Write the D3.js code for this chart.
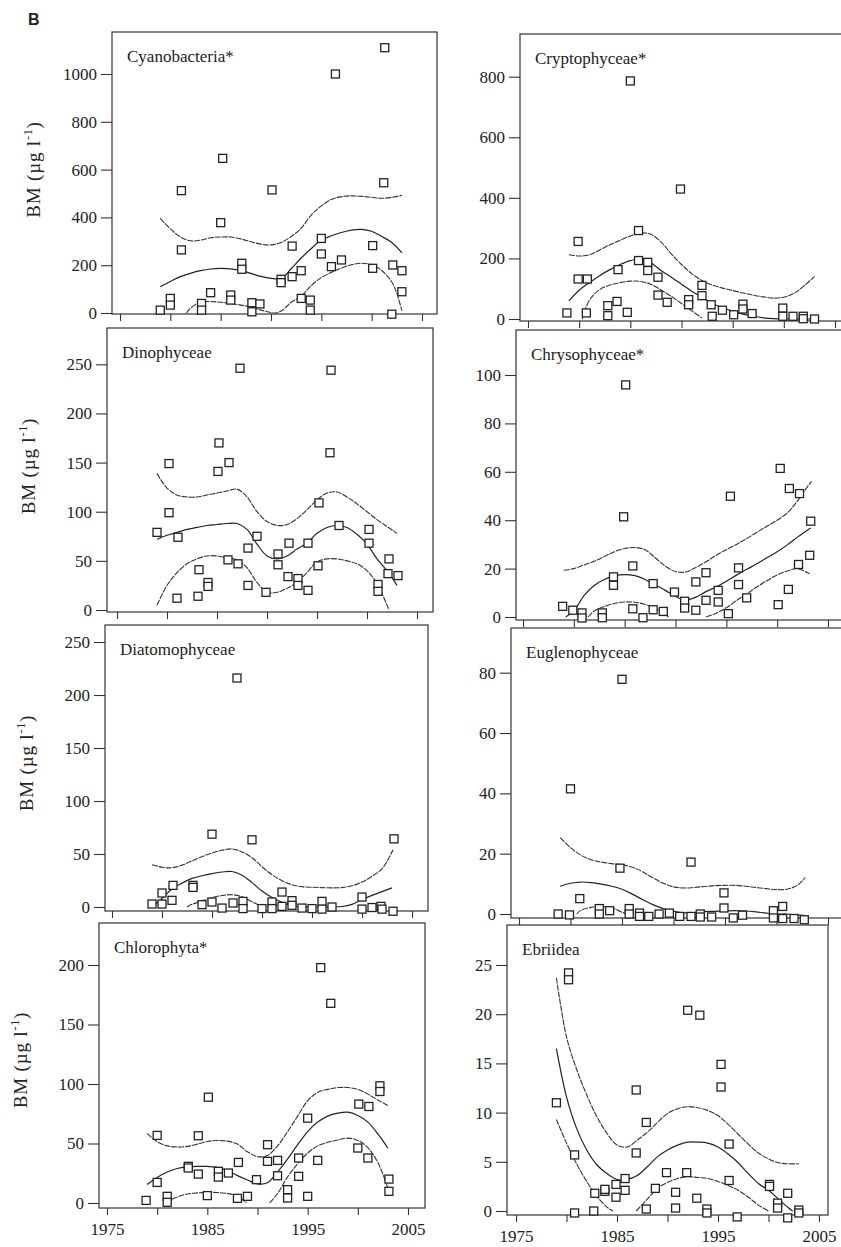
<!DOCTYPE html>
<html lang="en">
<head>
<meta charset="utf-8">
<title>Phytoplankton biomass trends</title>
<script src="https://d3js.org/d3.v7.min.js"></script>
<style>
  body { margin: 0; background: #fff; }
  svg text { font-family: "Liberation Serif", "DejaVu Serif", serif; fill: #222; }
  .frame { fill: none; stroke: #333; stroke-width: 1.2; }
  .axis path { display: none; }
  .axis line { stroke: #333; stroke-width: 1.1; }
  .pt { fill: #fff; stroke: #222; stroke-width: 1.3; }
  .fit { fill: none; stroke: #222; stroke-width: 1.2; }
  .band { fill: none; stroke: #333; stroke-width: 1.1; stroke-dasharray: 6,1; }
</style>
</head>
<body>
<script>
// x ticks every 5 years, labels only on the bottom panels
var xTicks = [1975, 1980, 1985, 1990, 1995, 2000, 2005];

// ---- Cyanobacteria ----
var cyanoPts = [[1979,12],[1980,61],[1980,33],[1981.1,512],[1981.1,264],[1983.1,40],[1983.1,12],[1984,85],[1985.2,647],[1985,378],
  [1986,75],[1986,54],[1987.1,208],[1987.1,183],[1988.1,43],[1988.1,5],[1988.9,38],[1990.1,515],[1991,141],[1991,127],
  [1992.1,152],[1992.1,280],[1993,177],[1993,61],[1993.9,54],[1993.9,12],[1995,312],[1995,247],[1996,194],[1996.4,1000],
  [1997,222],[2000.1,282],[2000.1,187],[2001.3,1110],[2001.2,545],[2002.1,201],[2002,-5],[2003,177],[2003,89]];
var cyanoHi = [[1979,396],[1980,352],[1981,318],[1982,302],[1983,305],[1984,315],[1985,318],[1986,318],[1987,310],[1988,298],
  [1989,288],[1990,285],[1991,295],[1992,320],[1993,355],[1994,410],[1995,448],[1996,475],[1997,487],[1998,490],[1999,488],
  [2000,484],[2001,480],[2002,484],[2003,492]];
var cyanoFit = [[1979,110],[1980,132],[1981,152],[1982,166],[1983,177],[1984,184],[1985,187],[1986,185],[1987,178],[1988,166],
  [1989,153],[1990,145],[1991,145],[1992,185],[1993,230],[1994,270],[1995,305],[1996,323],[1997,337],[1998,347],[1999,350],
  [2000,342],[2001,320],[2002,295],[2003,252]];
var cyanoLo = [[1981.6,0],[1982,20],[1983,45],[1984,48],[1985,45],[1986,40],[1987,33],[1988,25],[1989,12],[1990,2],[1990.5,0],
  [1991,8],[1991.5,25],[1992,45],[1993,70],[1994,115],[1995,148],[1996,170],[1997,188],[1998,202],[1999,208],[2000,202],
  [2001,178],[2002,130],[2002.5,82],[2003,10]];

// ---- Cryptophyceae ----
var cryptoPts = [[1978.8,20],[1979.9,256],[1979.9,132],[1980.8,132],[1980.7,20],[1982.8,44],[1982.8,11],[1983.8,163],[1983.7,58],
  [1984.7,22],[1985,786],[1985.8,292],[1985.8,193],[1986.7,187],[1986.7,160],[1987.7,138],[1987.7,79],[1988.6,55],[1989.9,429],
  [1990.7,64],[1990.7,47],[1992,111],[1992,77],[1992.9,47],[1993,9],[1994,29],[1995.1,14],[1996,49],[1996,33],[1996.9,18],
  [1999.9,36],[1999.9,9],[2000.9,9],[2001.9,9],[2001.9,1],[2003,0]];
var cryptoHi = [[1979,212],[1980,208],[1981,212],[1982,228],[1983,245],[1984,260],[1985,274],[1986,284],[1987,280],[1988,254],
  [1989,215],[1990,180],[1991,150],[1992,127],[1993,112],[1994,102],[1995,94],[1996,86],[1997,79],[1998,73],[1999,69],
  [2000,72],[2001,85],[2002,110],[2003,141]];
var cryptoFit = [[1979,60],[1980,95],[1981,120],[1982,143],[1983,163],[1984,180],[1985,193],[1986,198],[1987,186],[1988,160],
  [1989,138],[1990,115],[1991,92],[1992,72],[1993,52],[1994,37],[1995,26],[1996,16],[1997,9],[1998,4],[1999,1],[2000,0],
  [2001,0],[2002,0],[2003,0]];
var cryptoLo = [[1980.3,0],[1981,62],[1982,97],[1983,112],[1984,120],[1985,125],[1986,124],[1987,115],[1988,96],[1989,75],
  [1990,51],[1991,27],[1992,3]];

// ---- Dinophyceae ----
var dinoPts = [[1979,79],[1980.2,149],[1980.2,99],[1981.1,74],[1981,12],[1983.2,41],[1983.1,14],[1984.1,28],[1984.1,24],
  [1985.2,170],[1985.1,141],[1986.2,150],[1986.1,51],[1987.1,47],[1987.3,246],[1988.1,63],[1988.1,25],[1989,75],[1989.9,18],
  [1991.1,57],[1991.1,46],[1992.2,68],[1992.1,34],[1993.1,32],[1993.1,25],[1994.1,68],[1994.1,20],[1995.2,109],[1995.1,45],
  [1996.4,244],[1996.3,160],[1997.2,86],[2000.2,82],[2000.2,68],[2001.1,26],[2001.1,19],[2002.2,52],[2002.1,37],[2003.1,35]];
var dinoHi = [[1979,139],[1980,124],[1981,117],[1982,115],[1983,115],[1984,117],[1985,119],[1986,121],[1987,123],[1988,115],
  [1989,100],[1990,90],[1991,86],[1992,87],[1993,93],[1994,102],[1995,112],[1996,119],[1997,120],[1998,115],[1999,108],
  [2000,100],[2001,92],[2002,85],[2003,78]];
var dinoFit = [[1979,72],[1980,76],[1981,79],[1982,82],[1983,84],[1984,86],[1985,87],[1986,88],[1987,88],[1988,82],[1989,67],
  [1990,55],[1991,52],[1992,55],[1993,62],[1994,68],[1995,78],[1996,84],[1997,86],[1998,84],[1999,77],[2000,67],[2001,52],
  [2002,40],[2003,25]];
var dinoLo = [[1979,5],[1980,25],[1981,38],[1982,47],[1983,52],[1984,55],[1985,55],[1986,53],[1987,51],[1988,43],[1989,28],
  [1990,18],[1991,18],[1992,22],[1993,28],[1994,38],[1995,49],[1996,52],[1997,52],[1998,50],[1999,47],[2000,40],[2001,27],
  [2002,5],[2002.2,0]];

// ---- Chrysophyceae ----
var chrysoPts = [[1978.9,4.4],[1979.9,2.8],[1980.8,1.7],[1980.8,-0.4],[1982.8,1.7],[1982.8,-0.3],[1983.9,16.6],[1983.9,13.1],
  [1985.1,95.9],[1984.9,41.4],[1985.8,21.1],[1985.8,3.4],[1986.8,-0.3],[1987.8,13.8],[1987.8,3],[1988.8,2.3],[1989.9,10.3],
  [1990.9,6.5],[1990.9,3.7],[1992,14.5],[1992,2.8],[1993,18.3],[1993,6.9],[1994.2,11],[1994.2,6.2],[1995.4,49.9],[1995.2,1.4],
  [1996.2,20.3],[1996.2,13.4],[1997,7.9],[2000.3,61.4],[2000.1,5.1],[2001.2,53.1],[2001.1,11.4],[2002.2,51],[2002.1,21.7],
  [2003.3,39.6],[2003.2,25.5]];
var chrysoHi = [[1979,19.3],[1980,20],[1981,21.5],[1982,23],[1983,25],[1984,27],[1985,28.3],[1986,28.7],[1987,27.8],[1988,24.5],
  [1989,21],[1990,18.8],[1991,18.6],[1992,20.5],[1993,22.8],[1994,25.5],[1995,27.8],[1996,30],[1997,32.4],[1998,35],[1999,37.5],
  [2000,40],[2001,43],[2002,48],[2003,54],[2003.4,56]];
var chrysoFit = [[1979.2,0],[1980,2.5],[1981,8.8],[1982,13],[1983,15.5],[1984,17],[1985,17.5],[1986,17.1],[1987,15.5],[1988,13.3],
  [1989,11],[1990,8.5],[1991,7],[1992,8.2],[1993,10.5],[1994,12.4],[1995,14.8],[1996,17.3],[1997,19.7],[1998,22],[1999,24.5],
  [2000,27],[2001,29.8],[2002,33],[2003,36],[2003.3,36.8]];
var chrysoLo = [[1981.4,0],[1982,2.5],[1983,4.3],[1984,5.6],[1985,6.2],[1986,6.1],[1987,5.2],[1988,3.6],[1989,1],[1989.3,0],
  [1991,null],[1993,0],[1994,1.6],[1995,3.8],[1996,6.8],[1997,9.5],[1998,12.4],[1999,15],[2000,17.4],[2001,19],[2002,20],
  [2003,18.3],[2003.2,17.9]];

// ---- Diatomophyceae ----
var diatomPts = [[1979,2.8],[1980,13.2],[1980,2.8],[1981.1,20.4],[1981,6.3],[1983.1,20.4],[1983.1,18.5],[1984,2.2],[1985,68.7],
  [1985,4.7],[1986,-1],[1987.1,3.8],[1987.5,216],[1988.1,5.3],[1988.1,-1.5],[1989,63.4],[1990,-1.5],[1991,4.7],[1991,-1.5],
  [1992,14.1],[1992,0.6],[1993,6],[1993,1.6],[1994,-1],[1995,-1.5],[1996,5.3],[1996,-2],[1997,0],[2000,9.4],[2000,-2],
  [2001,-0.5],[2001.9,0.6],[2002,-2],[2003.1,-4],[2003.2,64.3]];
var diatomHi = [[1979,39.8],[1980,37.5],[1981,37],[1982,39.5],[1983,43.5],[1984,47.5],[1985,51],[1986,53.5],[1987,54.8],[1988,52],
  [1989,46.5],[1990,38],[1991,30.5],[1992,24.8],[1993,21],[1994,19.2],[1995,18.6],[1996,18.3],[1997,18],[1998,18.3],[1999,20],
  [2000,23.5],[2001,29],[2002,36],[2003,52],[2003.1,54]];
var diatomFit = [[1979,0],[1980,8],[1981,17],[1982,22.5],[1983,27],[1984,29.5],[1985,31.5],[1986,33],[1987,33.5],[1988,30],
  [1989,23],[1990,15],[1991,9],[1992,4.5],[1993,1],[1994,0],[1995,0],[1996,0],[1997,0],[1998,0.5],[1999,2.5],[2000,7],
  [2001,11],[2002,14.5],[2003,18]];
var diatomLo = [[1982.5,0],[1983,2.5],[1984,5.8],[1985,8.8],[1986,10.8],[1987,11.6],[1988,9.6],[1989,5],[1990,0.5],[1990.2,0]];

// ---- Euglenophyceae ----
var eugPts = [[1978.8,0],[1979.9,-0.3],[1980,41.5],[1980.9,5.1],[1982.8,1.8],[1982.8,0],[1983.8,1.1],[1985,77.8],[1984.8,15.2],
  [1985.7,1.8],[1985.7,0],[1986.7,0.3],[1986.7,-0.8],[1987.6,-0.8],[1988.6,0],[1989.6,0.3],[1990.6,-0.8],[1991.7,17.2],
  [1991.7,-0.8],[1992.6,0],[1992.6,-1],[1993.7,-1],[1994.9,7],[1994.9,2],[1995.8,-1.3],[1996.7,-0.4],[1999.7,1.1],
  [1999.7,-1.3],[2000.6,2.5],[2000.6,-1.5],[2001.7,-1.5],[2002.7,-1.9]];
var eugHi = [[1979,25.3],[1980,22],[1981,19.5],[1982,18],[1983,17.2],[1984,16.7],[1985,16.3],[1986,15.5],[1987,14],[1988,12],
  [1989,10.2],[1990,9],[1991,8.6],[1992,8.8],[1993,9.1],[1994,9.4],[1995,9.5],[1996,9.5],[1997,9.2],[1998,8.8],[1999,8.4],
  [2000,8.1],[2001,8.2],[2002,9.5],[2002.8,12.1]];
var eugFit = [[1979,9.2],[1980,10.2],[1981,10.6],[1982,10.4],[1983,9.9],[1984,9.2],[1985,8.2],[1986,6.6],[1987,4.8],[1988,3.1],
  [1989,1.8],[1990,0.9],[1991,0.4],[1992,0.5],[1993,0.8],[1994,0.9],[1995,1],[1996,1.1],[1997,1],[1998,0.7],[1999,0.3],
  [2000,0],[2001,0],[2002,-0.3],[2002.8,-0.5]];
var eugLo = [[1980.6,0],[1981,1.2],[1982,2.2],[1983,2.5],[1984,2],[1985,0.6],[1985.3,0]];

// ---- Chlorophyta ----
var chloroPts = [[1978.9,2.2],[1980,56.8],[1980,17.3],[1981,5.6],[1981,0.6],[1983.1,30.8],[1983.1,29.4],[1984.1,56.5],[1984.1,24.3],
  [1985.1,88.9],[1985,6.2],[1986.1,26.6],[1986.1,21.8],[1987.1,25.2],[1988.1,34.1],[1988,3.9],[1989,5.6],[1989.9,19.6],
  [1991,49],[1991,35],[1992,35.8],[1992,22.9],[1993,11.2],[1993,4.2],[1994.1,37.8],[1994.1,22.4],[1995,71.3],[1995,5.6],
  [1996.3,197.8],[1996,35.8],[1997.3,167.8],[2000.1,83.1],[2000,46.2],[2001.1,81.1],[2001,37.8],[2002.2,98.5],[2002.2,93.7],
  [2003.1,20.1],[2003.1,9.8]];
var chloroHi = [[1979,58.5],[1980,51.5],[1981,48],[1982,47],[1983,47.6],[1984,49.5],[1985,51.7],[1986,52.5],[1987,52],[1988,49.5],
  [1989,43],[1990,39],[1991,40],[1992,48],[1993,60],[1994,73],[1995,86],[1996,93],[1997,95.5],[1998,97],[1999,97],[2000,95.5],
  [2001,91.5],[2002,86.5],[2003,82]];
var chloroFit = [[1979,15.5],[1980,21.5],[1981,26],[1982,29],[1983,30.3],[1984,30.8],[1985,30.7],[1986,30],[1987,27.3],[1988,23],
  [1989,19.3],[1990,16],[1991,17],[1992,26],[1993,37],[1994,49],[1995,60],[1996,68],[1997,73],[1998,75.5],[1999,76.3],
  [2000,73.5],[2001,68],[2002,58],[2003,46]];
var chloroLo = [[1980.9,0],[1981,1],[1982,5],[1983,7.5],[1984,8.5],[1985,9],[1986,8.8],[1987,8],[1988,5.8],[1988.9,0],[1990,null],
  [1991.2,0],[1992,8],[1993,22],[1994,33],[1995,42],[1996,48],[1997,51],[1998,53],[1999,54.5],[2000,52.6],[2001,46.5],
  [2002,34],[2003,12.5]];

// ---- Ebriidea ----
var ebriPts = [[1979,11],[1980.2,24.2],[1980.2,23.5],[1980.8,5.7],[1980.8,-0.2],[1982.8,1.8],[1982.7,0],[1983.8,2],[1983.8,2.2],
  [1984.9,2.7],[1984.9,1.4],[1985.8,3.3],[1985.8,2.1],[1986.9,12.3],[1986.9,5.9],[1987.9,9],[1987.9,0.2],[1988.8,2.3],
  [1989.9,3.9],[1990.8,1.9],[1990.8,0.3],[1992,20.4],[1991.9,3.9],[1992.9,1.3],[1993.2,19.9],[1993.9,0.2],[1993.9,-0.2],
  [1995.3,14.9],[1995.3,12.6],[1996.1,6.8],[1996.1,3.1],[1996.9,-0.6],[2000.1,2.7],[2000.1,2.5],[2000.9,0.8],[2000.9,0.3],
  [2001.9,1.8],[2001.9,-0.7],[2003,0.1],[2003,-0.2]];
var ebriHi = [[1979,23.7],[1980,17.7],[1981,14.4],[1982,11.8],[1983,9.6],[1984,7.9],[1985,6.7],[1986,6.5],[1987,7.2],[1988,8],
  [1989,9],[1990,9.9],[1991,10.4],[1992,10.6],[1993,10.5],[1994,10.2],[1995,9.7],[1996,8.8],[1997,7.8],[1998,6.8],[1999,5.9],
  [2000,5.3],[2001,4.9],[2002,4.8],[2003,4.8]];
var ebriFit = [[1979,16.5],[1980,11.6],[1981,8.4],[1982,6.2],[1983,4.7],[1984,3.8],[1985,3.2],[1986,3.2],[1987,3.6],[1988,4.5],
  [1989,5.5],[1990,6.2],[1991,6.7],[1992,7],[1993,7],[1994,6.9],[1995,6.5],[1996,5.8],[1997,4.9],[1998,3.8],[1999,2.8],
  [2000,2.1],[2001,1.2],[2002,0.3],[2002.4,0]];
var ebriLo = [[1979,9.3],[1980,6.9],[1981,4.8],[1982,3],[1983,1.5],[1984,0.4],[1984.6,0],[1985.5,null],[1986.9,0],[1988,1.2],
  [1989,2.3],[1990,2.9],[1991,3.3],[1992,3.5],[1993,3.4],[1994,3.3],[1995,3],[1996,2.6],[1997,2.1],[1998,1.4],[1999,0.6],[2000,0]];

// panel list: data + pixel frame of each (scan is slightly skewed, so each box is its own)
var panels = [
  {name: "Cyanobacteria*", pts: cyanoPts, hi: cyanoHi, fit: cyanoFit, lo: cyanoLo, yTicks: [0,200,400,600,800,1000], yRef: 1000,
   box: {l: 112, t: 32, r: 437, b: 314, x0: 120, x1: 422, y0: 313, yr: 74}, ylab: true, xlab: false},
  {name: "Cryptophyceae*", pts: cryptoPts, hi: cryptoHi, fit: cryptoFit, lo: cryptoLo, yTicks: [0,200,400,600,800], yRef: 800,
   box: {l: 520, t: 34, r: 850, b: 321, x0: 528, x1: 835, y0: 319, yr: 76.7}, ylab: false, xlab: false},
  {name: "Dinophyceae", pts: dinoPts, hi: dinoHi, fit: dinoFit, lo: dinoLo, yTicks: [0,50,100,150,200,250], yRef: 250,
   box: {l: 107, t: 328, r: 433, b: 612, x0: 117, x1: 417, y0: 610, yr: 364.3}, ylab: true, xlab: false},
  {name: "Chrysophyceae*", pts: chrysoPts, hi: chrysoHi, fit: chrysoFit, lo: chrysoLo, yTicks: [0,20,40,60,80,100], yRef: 100,
   box: {l: 516, t: 330, r: 850, b: 620, x0: 523, x1: 828, y0: 617, yr: 375}, ylab: false, xlab: false},
  {name: "Diatomophyceae", pts: diatomPts, hi: diatomHi, fit: diatomFit, lo: diatomLo, yTicks: [0,50,100,150,200,250], yRef: 250,
   box: {l: 105, t: 625, r: 428, b: 911, x0: 112, x1: 412, y0: 907, yr: 642}, ylab: true, xlab: false},
  {name: "Euglenophyceae", pts: eugPts, hi: eugHi, fit: eugFit, lo: eugLo, yTicks: [0,20,40,60,80], yRef: 80,
   box: {l: 511, t: 628, r: 850, b: 918, x0: 519, x1: 828, y0: 914, yr: 672.7}, ylab: false, xlab: false},
  {name: "Chlorophyta*", pts: chloroPts, hi: chloroHi, fit: chloroFit, lo: chloroLo, yTicks: [0,50,100,150,200], yRef: 200,
   box: {l: 99, t: 923, r: 425, b: 1208, x0: 107, x1: 408, y0: 1203, yr: 965}, ylab: true, xlab: true},
  {name: "Ebriidea", pts: ebriPts, hi: ebriHi, fit: ebriFit, lo: ebriLo, yTicks: [0,5,10,15,20,25], yRef: 25,
   box: {l: 507, t: 925, r: 828, b: 1215, x0: 516, x1: 819, y0: 1211, yr: 965}, ylab: false, xlab: true}
];

var serif = "'Liberation Serif', 'DejaVu Serif', serif";

var svg = d3.select("body").append("svg")
  .attr("width", 841)
  .attr("height", 1247);

svg.append("rect").attr("width", 841).attr("height", 1247).attr("fill", "#fff");

svg.append("text")
  .attr("x", 28).attr("y", 25)
  .style("font-family", "'Liberation Sans', Arial, sans-serif")
  .style("font-weight", "bold")
  .style("font-size", "16px")
  .text("B");

panels.forEach(function(p, i) {
  var b = p.box;
  var x = d3.scaleLinear().domain([1975, 2005]).range([b.x0, b.x1]);
  var y = d3.scaleLinear().domain([0, p.yRef]).range([b.y0, b.yr]);

  var g = svg.append("g");

  // clip so band curves stay in the box
  g.append("clipPath").attr("id", "clip" + i)
    .append("rect").attr("x", b.l).attr("y", b.t).attr("width", b.r - b.l).attr("height", b.b - b.t + 2);

  g.append("rect").attr("class", "frame")
    .attr("x", b.l).attr("y", b.t)
    .attr("width", b.r - b.l).attr("height", b.b - b.t);

  // y axis
  g.append("g").attr("class", "axis")
    .attr("transform", "translate(" + b.l + ",0)")
    .call(d3.axisLeft(y).tickValues(p.yTicks).tickSize(11).tickPadding(4).tickFormat(d3.format("d")))
    .attr("font-family", serif)
    .attr("font-size", 17);

  // x axis
  g.append("g").attr("class", "axis")
    .attr("transform", "translate(0," + b.b + ")")
    .call(d3.axisBottom(x).tickValues(xTicks).tickSize(7).tickPadding(8)
      .tickFormat(function(d) { return (p.xlab && d % 10 === 5) ? d : ""; }))
    .attr("font-family", serif)
    .attr("font-size", 17);

  // title
  g.append("text")
    .attr("x", b.l + 15)
    .attr("y", b.t + 30)
    .style("font-size", "17px")
    .text(p.name);

  // y label
  if (p.ylab) {
    var yc = (b.t + b.y0) / 2 - 3;
    var t = g.append("text")
      .attr("transform", "translate(" + (b.l - 72) + "," + yc + ") rotate(-90)")
      .attr("text-anchor", "middle")
      .style("font-size", "19px")
      .style("letter-spacing", "0.8px");
    t.append("tspan").text("BM (\u00b5g l");
    t.append("tspan").attr("dy", -8).style("font-size", "12px").text("-1");
    t.append("tspan").attr("dy", 8).text(")");
  }

  var line = d3.line()
    .defined(function(d) { return d[1] !== null; })
    .x(function(d) { return x(d[0]); })
    .y(function(d) { return y(d[1]); })
    .curve(d3.curveCatmullRom.alpha(0.5));

  var curves = g.append("g").attr("clip-path", "url(#clip" + i + ")");
  curves.append("path").datum(p.hi).attr("class", "band").attr("d", line);
  curves.append("path").datum(p.fit).attr("class", "fit").attr("d", line);
  curves.append("path").datum(p.lo).attr("class", "band").attr("d", line);

  // open square markers
  var s = 8;
  g.selectAll(".pt").data(p.pts).enter()
    .append("rect").attr("class", "pt")
    .attr("x", function(d) { return x(d[0]) - s / 2; })
    .attr("y", function(d) { return y(d[1]) - s / 2; })
    .attr("width", s).attr("height", s);
});
</script>
</body>
</html>
